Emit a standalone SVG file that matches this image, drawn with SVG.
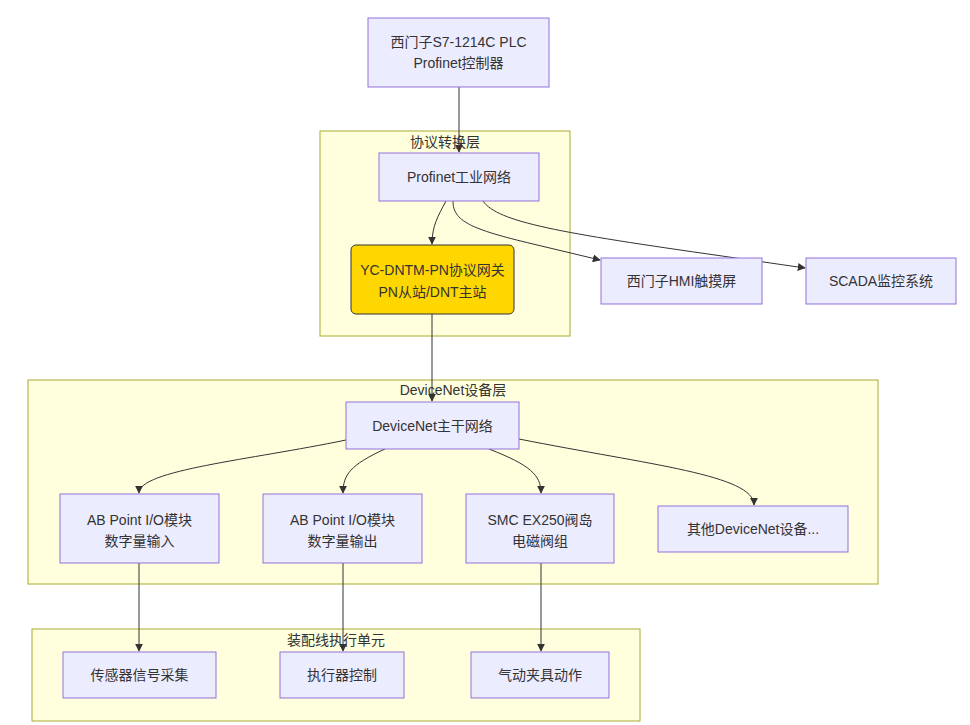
<svg xmlns="http://www.w3.org/2000/svg" width="970" height="725" viewBox="0 0 970 725">
<defs>
<marker id="arr" viewBox="0 0 10 10" refX="9" refY="5" markerWidth="8" markerHeight="8" orient="auto" markerUnits="userSpaceOnUse">
<path d="M0,0 L10,5 L0,10 z" fill="#333"/>
</marker>
<style>
.cl{fill:#ffffde;stroke:#aaaa33;stroke-width:1}
.nd{fill:#ECECFF;stroke:#9370DB;stroke-width:1}
.gw{fill:#FFD700;stroke:#333;stroke-width:1}
.e{fill:none;stroke:#333;stroke-width:1;marker-end:url(#arr)}
text{font-family:"Liberation Sans","Noto Sans CJK SC",sans-serif;font-size:14px;fill:#333;text-anchor:middle;dominant-baseline:central}
</style>
</defs>
<rect width="970" height="725" fill="#fff"/>
<g id="clusters">
<g id="c1"><rect class="cl" x="320" y="131" width="250" height="205"/><text x="445" y="142">协议转换层</text></g>
<g id="c2"><rect class="cl" x="28" y="380" width="850" height="204"/><text x="453" y="390">DeviceNet设备层</text></g>
<g id="c3"><rect class="cl" x="32" y="629" width="608" height="92"/><text x="336" y="640">装配线执行单元</text></g>
</g>
<g id="edges">
<path class="e" d="M459,87 L459,152"/>
<path class="e" d="M446,201 C438,216 432,226 432,244"/>
<path class="e" d="M453,201 C453,221 470,229 533,244 L600,260"/>
<path class="e" d="M483,201 C497,222 560,233 722,256 L805,268"/>
<path class="e" d="M432,314 L432,401"/>
<path class="e" d="M346,440 C250,460 139,470 139,493"/>
<path class="e" d="M385,449 C350,465 343,475 343,493"/>
<path class="e" d="M489,449 C530,465 541,475 541,493"/>
<path class="e" d="M519,439 C650,465 754,475 754,505"/>
<path class="e" d="M139,563 L139,651"/>
<path class="e" d="M343,563 L343,651"/>
<path class="e" d="M541,563 L541,651"/>
</g>
<g id="n_plc"><rect class="nd" x="368" y="18" width="181" height="69"/><text x="458.5" y="42">西门子S7-1214C PLC</text><text x="458.5" y="63">Profinet控制器</text></g>
<g id="n_pn"><rect class="nd" x="379" y="153" width="160" height="48"/><text x="459" y="177">Profinet工业网络</text></g>
<g id="n_gw"><rect class="gw" x="351" y="245" width="163" height="69" rx="5"/><text x="432.5" y="270">YC-DNTM-PN协议网关</text><text x="432.5" y="292">PN从站/DNT主站</text></g>
<g id="n_hmi"><rect class="nd" x="601" y="258" width="161" height="46"/><text x="681.5" y="281">西门子HMI触摸屏</text></g>
<g id="n_scada"><rect class="nd" x="806" y="258" width="150" height="46"/><text x="881" y="281">SCADA监控系统</text></g>
<g id="n_dn"><rect class="nd" x="346" y="402" width="173" height="47"/><text x="432.5" y="426">DeviceNet主干网络</text></g>
<g id="n_abin"><rect class="nd" x="60" y="494" width="159" height="69"/><text x="139.5" y="520">AB Point I/O模块</text><text x="139.5" y="541">数字量输入</text></g>
<g id="n_about"><rect class="nd" x="263" y="494" width="159" height="69"/><text x="342.5" y="520">AB Point I/O模块</text><text x="342.5" y="541">数字量输出</text></g>
<g id="n_smc"><rect class="nd" x="466" y="494" width="148" height="69"/><text x="540" y="520">SMC EX250阀岛</text><text x="540" y="541">电磁阀组</text></g>
<g id="n_other"><rect class="nd" x="658" y="506" width="190" height="46"/><text x="753" y="529">其他DeviceNet设备...</text></g>
<g id="n_sensor"><rect class="nd" x="63" y="652" width="153" height="46"/><text x="139.5" y="675">传感器信号采集</text></g>
<g id="n_act"><rect class="nd" x="280" y="652" width="124" height="46"/><text x="342" y="675">执行器控制</text></g>
<g id="n_pneu"><rect class="nd" x="471" y="652" width="138" height="46"/><text x="540" y="675">气动夹具动作</text></g>
</svg>
